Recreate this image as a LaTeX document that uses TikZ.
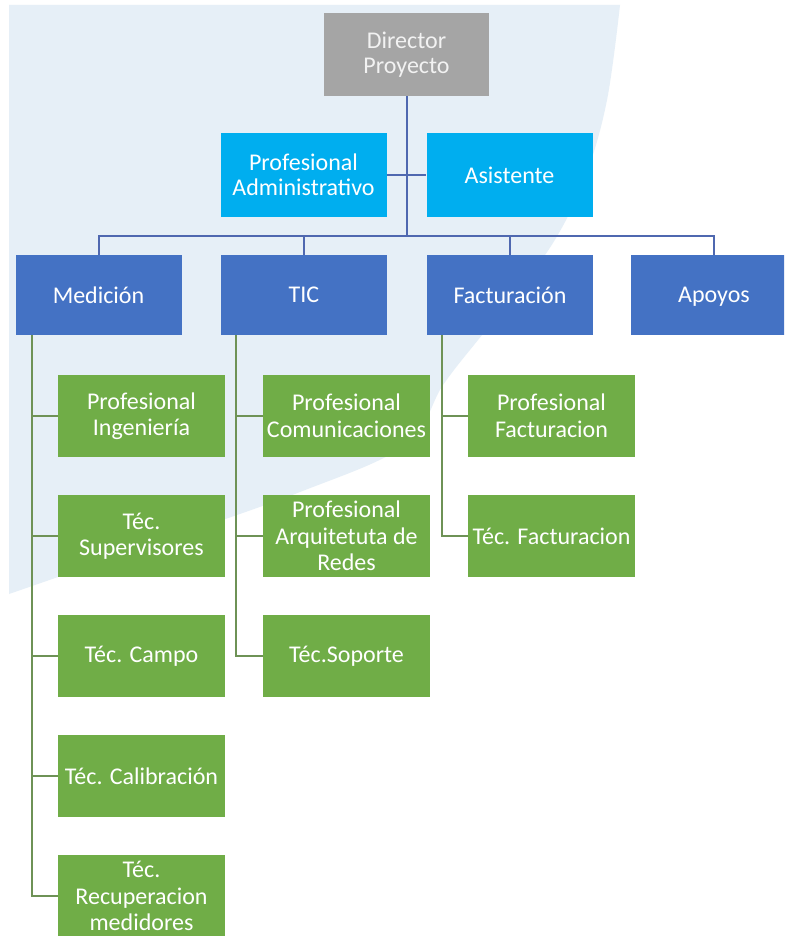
\documentclass[tikz,border=0pt]{standalone}
\usepackage{fontspec}
\setmainfont{Carlito}
\definecolor{bgblue}{HTML}{E6EFF7}
\definecolor{dirgray}{HTML}{A5A5A5}
\definecolor{cyanbox}{HTML}{00AEEF}
\definecolor{bluebox}{HTML}{4472C4}
\definecolor{greenbox}{HTML}{70AD47}
\definecolor{blueline}{HTML}{4F68B0}
\definecolor{greenline}{HTML}{6E9256}
\begin{document}
\begin{tikzpicture}[x=1pt,y=-1pt,
  box/.style={draw=none,text=white,align=center,inner sep=0pt,
    font=\fontsize{24}{25}\selectfont,minimum height=82},
  dirbox/.style={box,fill=dirgray,text=white!95!black,minimum width=165,minimum height=83},
  cbox/.style={box,fill=cyanbox,minimum width=166,minimum height=84},
  bbox/.style={box,fill=bluebox,minimum width=166,minimum height=80},
  gbox/.style={box,fill=greenbox,minimum width=167,minimum height=82,
    font=\fontsize{24}{26.5}\selectfont},
  bl/.style={draw=blueline,line width=2},
  gl/.style={draw=greenline,line width=2}]
\clip (0,0) rectangle (784,936);
\fill[white] (0,0) rectangle (784,936);
% background shape
\fill[bgblue] (9,594) -- (9,5) -- (620,5)
  -- plot[smooth,tension=0.6] coordinates {(620,5) (607,100) (586,175) (556,238) (515,295) (478,340) (443,385) (405,445) (300,492) (150,545) (9,594)}
  -- cycle;
% nodes
\node[dirbox] (dir) at (406.5,54.5) {Director\\Proyecto};
\node[cbox] (adm) at (303.5,175) {Profesional\\Administrativo};
\node[cbox] (asi) at (509.5,175) {Asistente};
\node[bbox] (med) at (98.5,295) {Medición};
\node[bbox] (tic) at (304,295) {TIC};
\node[bbox] (fac) at (510,295) {Facturación};
\node[bbox,text depth=0pt] (apo) at (714,295) {Apoyos};
% Medicion children
\node[gbox] (m1) at (141.5,416) {Profesional\\Ingeniería};
\node[gbox] (m2) at (141.5,536) {Téc.\\Supervisores};
\node[gbox] (m3) at (141.5,656) {Téc. Campo};
\node[gbox] (m4) at (141.5,776) {Téc. Calibración};
\node[gbox] (m5) at (141.5,896) {Téc.\\Recuperacion\\medidores};
% TIC children
\node[gbox] (t1) at (346.5,416) {Profesional\\Comunicaciones};
\node[gbox] (t2) at (346.5,536) {Profesional\\Arquitetuta de\\Redes};
\node[gbox] (t3) at (346.5,656) {Téc.Soporte};
% Facturacion children
\node[gbox] (f1) at (551.5,416) {Profesional\\Facturacion};
\node[gbox] (f2) at (551.5,536) {Téc. Facturacion};
% coordinates
\coordinate (bus) at (dir.south |- 0,236);
% blue connectors
\draw[bl] (dir.south) -- (bus);
\draw[bl] (adm.east) -- (asi.west);
\draw[bl] (med.north) |- (bus);
\draw[bl] (tic.north) |- (bus);
\draw[bl] (fac.north) |- (bus);
\draw[bl] (apo.north) |- (bus);
% green connectors
\coordinate (mv) at (32,0);
\coordinate (tv) at (236,0);
\coordinate (fv) at (442,0);
\draw[gl] (mv |- med.south) |- (m5.west);
\foreach \n in {m1,m2,m3,m4} \draw[gl] (mv |- \n.west) -- (\n.west);
\draw[gl] (tv |- tic.south) |- (t3.west);
\foreach \n in {t1,t2} \draw[gl] (tv |- \n.west) -- (\n.west);
\draw[gl] (fv |- fac.south) |- (f2.west);
\draw[gl] (fv |- f1.west) -- (f1.west);
\end{tikzpicture}
\end{document}
